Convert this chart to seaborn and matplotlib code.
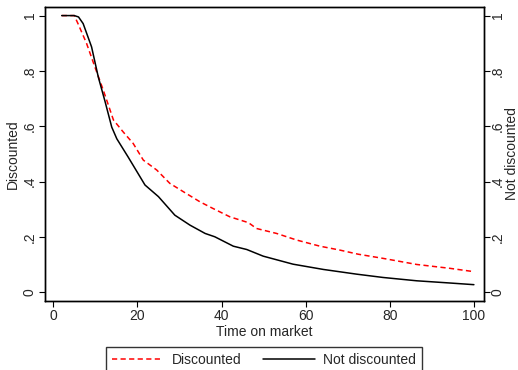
import matplotlib
matplotlib.use("Agg")
import matplotlib.pyplot as plt
import seaborn as sns
import pandas as pd
from matplotlib.lines import Line2D

# Data
x_disc = [2, 5, 5.9, 7.9, 9.9, 11.9, 14.3, 16.6, 19, 21.4, 24.6, 27.7, 30.9, 34.9,
          38, 42, 46.4, 48.3, 53.1, 57.9, 63.4, 68.1, 72.5, 78.4, 86.4, 94.3, 100]
y_disc = [1, 1, 0.97, 0.90, 0.814, 0.73, 0.623, 0.58, 0.538, 0.478, 0.442, 0.394,
          0.364, 0.327, 0.303, 0.273, 0.252, 0.231, 0.213, 0.189, 0.167, 0.153,
          0.138, 0.123, 0.101, 0.087, 0.075]
x_nd = [2, 5, 6, 7.1, 9.1, 10.7, 12.3, 13.9, 15.1, 17.8, 21.8, 25, 28.9, 32.5,
        36.1, 38.4, 42.8, 46, 49.9, 57, 64.2, 72.1, 78.4, 86.4, 94.3, 100]
y_nd = [1, 1, 0.995, 0.971, 0.887, 0.778, 0.69, 0.597, 0.555, 0.489, 0.388, 0.346,
        0.279, 0.243, 0.213, 0.201, 0.167, 0.155, 0.131, 0.102, 0.083, 0.066,
        0.054, 0.042, 0.034, 0.028]
xticks = [0, 20, 40, 60, 80, 100]
yticks = [0, 0.2, 0.4, 0.6, 0.8, 1.0]
ytick_labels = ["0", ".2", ".4", ".6", ".8", "1"]

sns.set_theme(style="white")
plt.rcParams['font.family'] = ['Liberation Sans', 'DejaVu Sans']
plt.rcParams['font.size'] = 10

df_d = pd.DataFrame({"t": x_disc, "s": y_disc})
df_n = pd.DataFrame({"t": x_nd, "s": y_nd})

DASH = [3.4, 2.2]

fig = plt.figure(figsize=(5.18, 3.70), dpi=100)
ax = fig.add_axes([45/518, 1 - 301/370, (484 - 45)/518, (301 - 7)/370])

sns.lineplot(data=df_d, x="t", y="s", ax=ax, color="#ff0000", lw=1.1,
             estimator=None, sort=False)
ax.lines[-1].set_dashes(DASH)
sns.lineplot(data=df_n, x="t", y="s", ax=ax, color="black", lw=1.1,
             estimator=None, sort=False)

ax.set_xlim(-1.97, 102.4)
ax.set_ylim(-0.031, 1.031)
ax.set_xticks(xticks)
ax.set_xticklabels([str(v) for v in xticks], fontsize=10)
ax.set_yticks(yticks)
ax.set_yticklabels(ytick_labels, fontsize=10, rotation=90, va="center")
ax.set_xlabel("Time on market", fontsize=10, labelpad=1)
ax.set_ylabel("Discounted", fontsize=10, labelpad=2)
for sp in ax.spines.values():
    sp.set_color("black")
    sp.set_linewidth(1.0)
ax.tick_params(axis="both", direction="out", length=4, width=0.8, color="black",
               pad=2, bottom=True, left=True)

ax2 = ax.twinx()
ax2.set_ylim(-0.031, 1.031)
ax2.set_yticks(yticks)
ax2.set_yticklabels(ytick_labels, fontsize=10, rotation=90, va="center")
ax2.set_ylabel("Not discounted", fontsize=10, labelpad=0, rotation=90)
ax2.tick_params(axis="y", direction="out", length=4, width=0.8, color="black",
                pad=1, right=True)
for sp in ax2.spines.values():
    sp.set_color("black")
    sp.set_linewidth(1.0)

handles = [Line2D([], [], color="#ff0000", lw=1.1, dashes=DASH),
           Line2D([], [], color="black", lw=1.1)]
leg = fig.legend(handles, ["Discounted", "Not discounted"], loc="lower center",
                 bbox_to_anchor=(264/518, -10/370), ncol=2, frameon=True,
                 fancybox=False, edgecolor="black", fontsize=10,
                 handlelength=3.7, handletextpad=0.6, columnspacing=1.6,
                 borderpad=0.45)
leg.get_frame().set_linewidth(1.0)

fig.savefig("out.png", dpi=100, facecolor="white")
